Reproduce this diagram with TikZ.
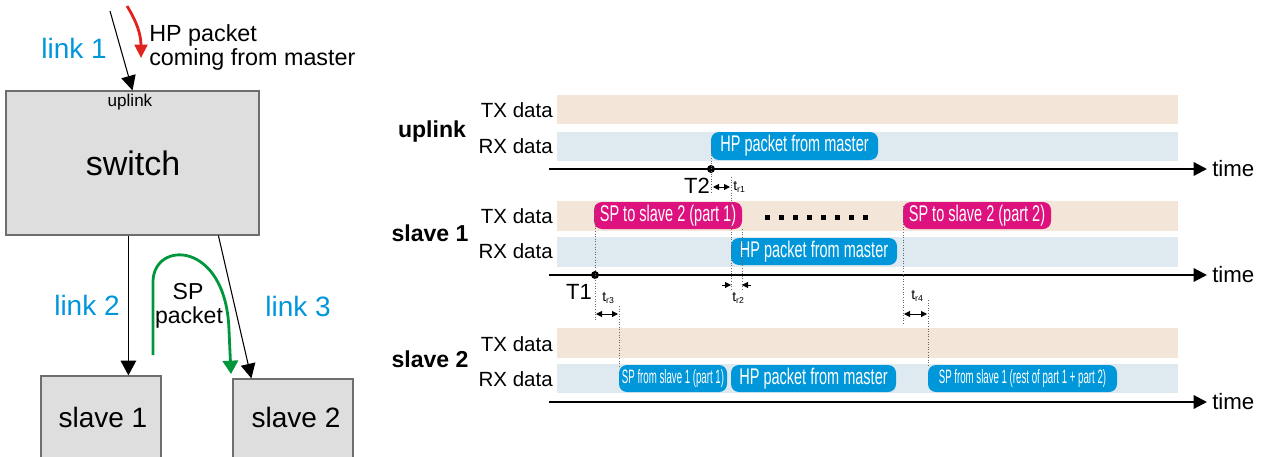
\documentclass[tikz,border=0pt]{standalone}
\usepackage{fontspec}
\setmainfont{Liberation Sans}
\newfontfamily\narrowA[FakeStretch=0.64]{Liberation Sans}
\newfontfamily\narrowB[FakeStretch=0.5]{Liberation Sans}
\usetikzlibrary{arrows.meta,fit,calc}
\definecolor{linkblue}{RGB}{0,150,220}
\definecolor{txc}{RGB}{243,229,215}
\definecolor{rxc}{RGB}{223,233,240}
\definecolor{pblue}{RGB}{0,150,218}
\definecolor{pmag}{RGB}{222,18,126}
\definecolor{boxgray}{RGB}{222,222,222}
\definecolor{boxline}{RGB}{110,110,110}
\definecolor{redarr}{RGB}{225,35,30}
\definecolor{greenarr}{RGB}{0,150,60}
\newcommand\fs[1]{\fontsize{#1}{#1}\selectfont}
\newcommand\trsub[1]{t\raisebox{-2.2pt}{\fs{6.5}r#1}}
\begin{document}
\begin{tikzpicture}[x=0.75pt,y=-0.75pt,
  swbox/.style={draw=boxline,fill=boxgray,line width=0.9pt,inner sep=0},
  txbar/.style={fill=txc,inner sep=0},
  rxbar/.style={fill=rxc,inner sep=0},
  pillb/.style={fill=pblue,rounded corners=6pt,inner sep=0},
  pillm/.style={fill=pmag,rounded corners=6pt,inner sep=0},
  ptA/.style={text=white,inner sep=0,font=\narrowA\fs{17}},
  ptB/.style={text=white,inner sep=0,font=\narrowB\fs{14.5}},
  lbl/.style={inner sep=0,font=\fs{15.4}},
  blbl/.style={inner sep=0,font=\bfseries\fs{17.3}},
  linklbl/.style={inner sep=0,text=linkblue,font=\fs{21}},
  tlbl/.style={inner sep=0,font=\fs{16.7}},
  Tl/.style={inner sep=0,font=\fs{16.5}},
  trl/.style={inner sep=0,font=\fs{10.5}},
  axis/.style={line width=1.6pt,-{Triangle[length=10pt,width=10pt]}},
  dot/.style={circle,fill=black,inner sep=0,minimum size=6pt},
  dotline/.style={draw=black!60,line width=0.6pt,dash pattern=on 0.75pt off 1.2pt},
  tarr/.style={line width=0.75pt,{Triangle[length=4.5pt,width=4.5pt]}-{Triangle[length=4.5pt,width=4.5pt]}},
  tone/.style={line width=0.75pt,-{Triangle[length=4.5pt,width=4.5pt]}},
  larr/.style={line width=0.8pt,-{Triangle[length=11pt,width=11pt]}},
  larrb/.style={line width=1.3pt,-{Triangle[length=11pt,width=11.5pt]}},
  garr/.style={draw=greenarr,line width=2.1pt,-{Triangle[length=10pt,width=11.5pt]}},
  rarr/.style={draw=redarr,line width=2.1pt,-{Triangle[length=10pt,width=9.5pt]}},
  sq/.style={fill=black}
]
\useasboundingbox (0,0) rectangle (1265,457);

% ---------------- left: network -----------------
\node[swbox,fit={(6,91) (259,235)}] (switch) {};
\node[inner sep=0,font=\fs{25.5}] (swtxt) at (133,163) {switch};
\node[inner sep=0,font=\fs{12.8}] (uptxt) at (130,102) {uplink};
\node[swbox,fit={(41,376) (161,470)}] (slave1) {};
\node[inner sep=0,font=\fs{21}] (s1txt) at (103,417) {slave 1};
\node[swbox,fit={(233,379) (353,470)}] (slave2) {};
\node[inner sep=0,font=\fs{21}] (s2txt) at (296,417) {slave 2};

\coordinate (l1s) at (110,11);
\draw[larr] (l1s) -- (switch.north);
\draw[larrb] ($(switch.south west)+(123,0)$) -- ($(slave1.north west)+(88,0)$);
\draw[larr] ($(switch.south west)+(213,0)$) -- ($(slave2.north west)+(19,0)$);

\node[linklbl] (lk1) at (74,48) {link 1};
\node[linklbl] (lk2) at (87,305) {link 2};
\node[linklbl] (lk3) at (298,306) {link 3};

\coordinate (rs) at (127,6);
\coordinate (re) at (141,58);
\draw[rarr] (rs) .. controls (137,22) and (141,35) .. (re);
\node[inner sep=0,anchor=base west,font=\fs{17.5}] (hp1) at (149,41) {HP packet};
\node[inner sep=0,anchor=base west,font=\fs{17.5}] (hp2) at (149,65) {coming from master};

\coordinate (gs) at (153,355);
\coordinate (ge) at (231,374);
\draw[garr] (gs) -- (153,282) .. controls (153,240) and (226,240) .. (229,330) -- (ge);
\node[inner sep=0,font=\fs{17.3}] (sp1) at (188,292) {SP};
\node[inner sep=0,font=\fs{17.3}] (sp2) at (189,318) {packet};

% ---------------- right: timing -----------------
% uplink
\node[txbar,fit={(557,95) (1178,124)}] (uTX) {};
\node[rxbar,fit={(557,132) (1178,161)}] (uRX) {};
\node[pillb,fit={(711,132) (878,160)}] (uHP) {};
\node[ptA] at (uHP.center) {HP packet from master};
\node[lbl,anchor=east] (uTXl) at (553,110) {TX data};
\node[lbl,anchor=east] (uRXl) at (553,146) {RX data};
\node[blbl] (ul) at (432,132) {uplink};
\coordinate (a1s) at (549,169);
\coordinate (a1e) at (1207,169);
\draw[axis] (a1s) -- (a1e);
\node[tlbl,anchor=west] (tm1) at (1212,169) {time};

% slave 1
\node[txbar,fit={(557,201) (1178,231)}] (s1TX) {};
\node[rxbar,fit={(557,237) (1178,267)}] (s1RX) {};
\node[pillm,fit={(594,202) (742,229)}] (s1SPa) {};
\node[ptA] at (s1SPa.center) {SP to slave 2 (part 1)};
\node[pillm,fit={(903,202) (1051,229)}] (s1SPb) {};
\node[ptA] at (s1SPb.center) {SP to slave 2 (part 2)};
\node[pillb,fit={(731,238) (897,265)}] (s1HP) {};
\node[ptA] at (s1HP.center) {HP packet from master};
\foreach \x in {767,781,795,809,823,837,851,865}
  \fill[sq] (\x-2.5,214.5) rectangle (\x+2.5,219.5);
\node[lbl,anchor=east] (s1TXl) at (553,216) {TX data};
\node[lbl,anchor=east] (s1RXl) at (553,251) {RX data};
\node[blbl] (s1l) at (430,233) {slave 1};
\coordinate (a2s) at (549,275);
\coordinate (a2e) at (1207,275);
\draw[axis] (a2s) -- (a2e);
\node[tlbl,anchor=west] (tm2) at (1212,275) {time};

% slave 2
\node[txbar,fit={(557,328) (1178,358)}] (s2TX) {};
\node[rxbar,fit={(557,364) (1178,393)}] (s2RX) {};
\node[pillb,fit={(619,365) (727,392)}] (s2SPa) {};
\node[ptB] at (s2SPa.center) {SP from slave 1 (part 1)};
\node[pillb,fit={(731,365) (896,392)}] (s2HP) {};
\node[ptA] at (s2HP.center) {HP packet from master};
\node[pillb,fit={(928,365) (1117,392)}] (s2SPb) {};
\node[ptB] at (s2SPb.center) {SP from slave 1 (rest of part 1 + part 2)};
\node[lbl,anchor=east] (s2TXl) at (553,344) {TX data};
\node[lbl,anchor=east] (s2RXl) at (553,379) {RX data};
\node[blbl] (s2l) at (430,359) {slave 2};
\coordinate (a3s) at (549,402);
\coordinate (a3e) at (1207,402);
\draw[axis] (a3s) -- (a3e);
\node[tlbl,anchor=west] (tm3) at (1212,402) {time};

% time markers
\node[dot] (T2d) at (711,169) {};
\node[Tl,anchor=east] (T2) at (710,186) {T2};
\node[dot] (T1d) at (595,275) {};
\node[Tl,anchor=east] (T1) at (592,292) {T1};

% dotted guides
\draw[dotline] (711,145) -- (711,194);
\draw[dotline] (731,177) -- (731,289);
\draw[dotline] (742,229) -- (742,290);
\draw[dotline] (595,205) -- (595,322);
\draw[dotline] (619,306) -- (619,366);
\draw[dotline] (903,206) -- (903,325);
\draw[dotline] (928,300) -- (928,366);

% delay arrows
\coordinate (r1a) at (713,187); \coordinate (r1b) at (730,187);
\draw[tarr] (r1a) -- (r1b);
\node[trl,anchor=west] (tr1) at (733,187) {\trsub{1}};
\coordinate (r2a) at (722,285); \coordinate (r2b) at (731,285);
\coordinate (r2c) at (751,285); \coordinate (r2d) at (742,285);
\draw[tone] (r2a) -- (r2b);
\draw[tone] (r2c) -- (r2d);
\node[trl,anchor=west] (tr2) at (732,298) {\trsub{2}};
\coordinate (r3a) at (596,314); \coordinate (r3b) at (618,314);
\draw[tarr] (r3a) -- (r3b);
\node[trl,anchor=west] (tr3) at (602,298) {\trsub{3}};
\coordinate (r4a) at (904,314); \coordinate (r4b) at (927,314);
\draw[tarr] (r4a) -- (r4b);
\node[trl,anchor=west] (tr4) at (911,296) {\trsub{4}};
\end{tikzpicture}
\end{document}
